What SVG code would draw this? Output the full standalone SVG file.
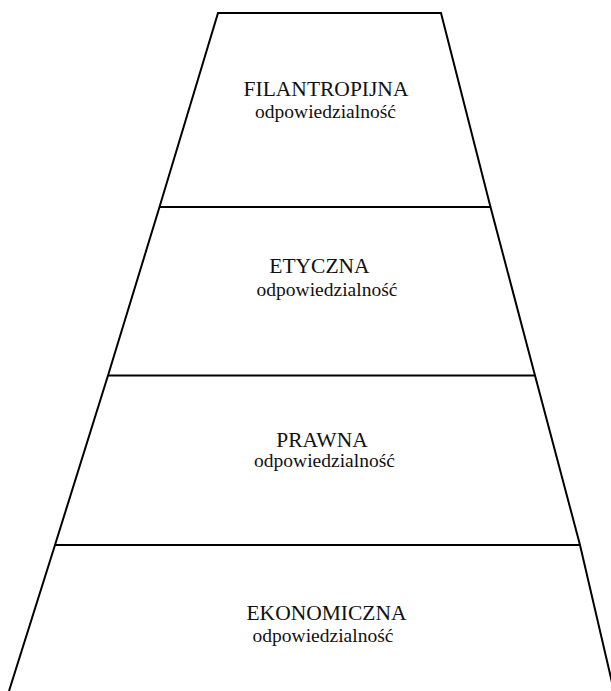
<svg xmlns="http://www.w3.org/2000/svg" width="611" height="691" viewBox="0 0 611 691">
<style>
.edge{stroke:#000;stroke-width:2;fill:none;stroke-linejoin:miter}
.t{font-family:"Liberation Serif","Times New Roman",serif;fill:#111;text-anchor:middle}
.h{font-size:21.5px}
.s{font-size:19.5px}
</style>
<rect width="611" height="691" fill="#fff"/>
<g id="connectors">
<polyline class="edge" points="9,691 55,545 108,375.5 159.5,207 218,13 441,13 490.5,207 535,375.5 580,545 614,691"/>
<line class="edge" x1="159.5" y1="207" x2="490.5" y2="207"/>
<line class="edge" x1="108" y1="375.5" x2="535" y2="375.5"/>
<line class="edge" x1="55" y1="545" x2="580" y2="545"/>
</g>
<g id="filantropijna">
<text class="t h" x="326" y="96">FILANTROPIJNA</text>
<text class="t s" x="325.5" y="118">odpowiedzialność</text>
</g>
<g id="etyczna">
<text class="t h" x="319.5" y="273">ETYCZNA</text>
<text class="t s" x="327" y="296">odpowiedzialność</text>
</g>
<g id="prawna">
<text class="t h" x="322" y="447">PRAWNA</text>
<text class="t s" x="324.5" y="467">odpowiedzialność</text>
</g>
<g id="ekonomiczna">
<text class="t h" x="326.5" y="620">EKONOMICZNA</text>
<text class="t s" x="323" y="641.5">odpowiedzialność</text>
</g>
</svg>
